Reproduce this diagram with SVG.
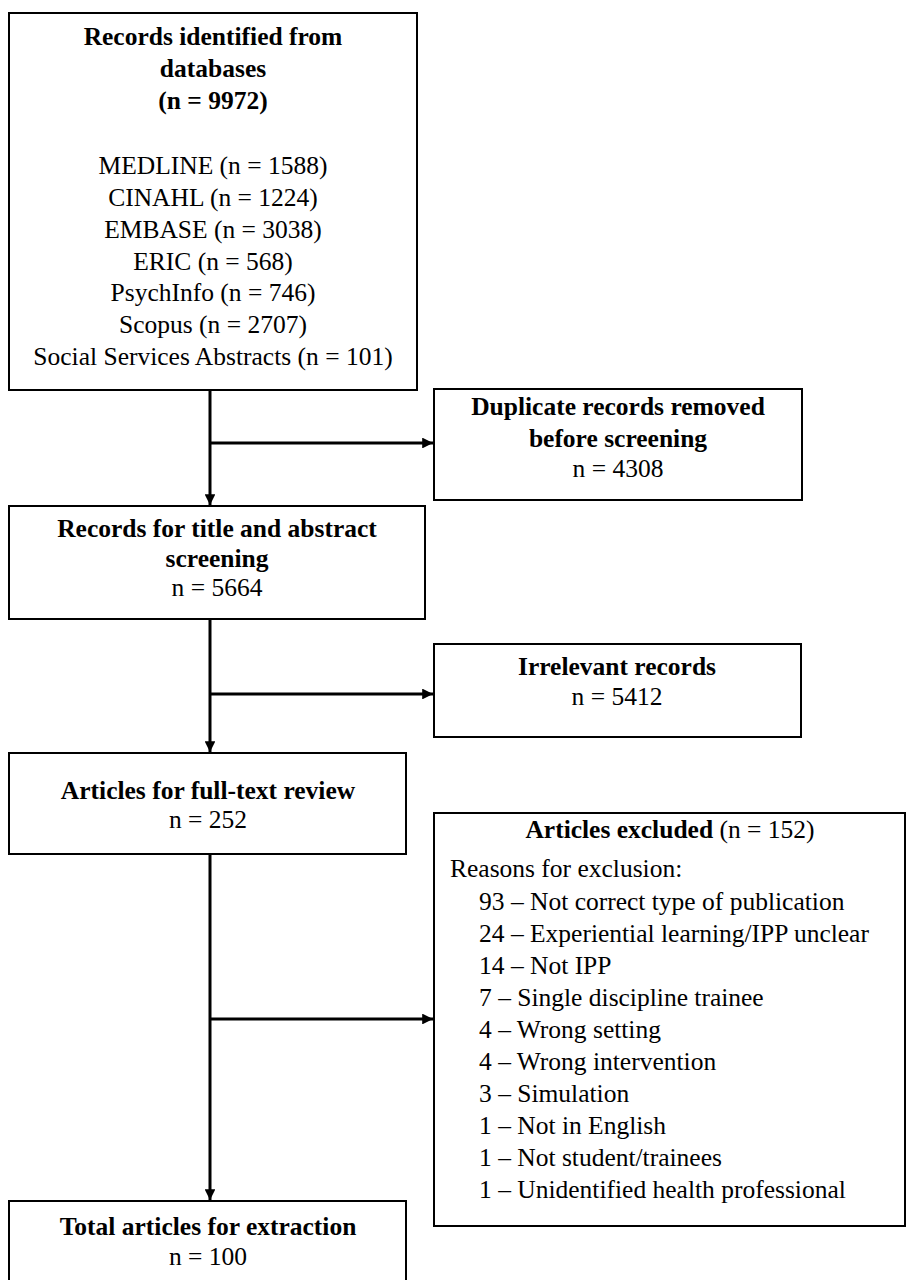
<svg xmlns="http://www.w3.org/2000/svg" width="907" height="1280" viewBox="0 0 907 1280">
<defs>
<style>
.box{fill:#fff;stroke:#000;stroke-width:2}
.t{font-family:"Liberation Serif","Times New Roman",serif;font-size:25.5px;fill:#000}
.b{font-weight:bold}
.c{text-anchor:middle}
.ln{stroke:#000;stroke-width:3;fill:none}
</style>
<marker id="ah" viewBox="0 0 10 10" refX="10" refY="5" markerWidth="3.6" markerHeight="3.6" orient="auto" markerUnits="strokeWidth">
<path d="M0,0 L10,5 L0,10 Z" fill="#000"/>
</marker>
</defs>
<rect width="907" height="1280" fill="#fff"/>
<g id="connectors">
<line class="ln" x1="210" y1="390" x2="210" y2="505" marker-end="url(#ah)"/>
<line class="ln" x1="210" y1="443" x2="433" y2="443" marker-end="url(#ah)"/>
<line class="ln" x1="210" y1="619" x2="210" y2="752" marker-end="url(#ah)"/>
<line class="ln" x1="210" y1="694" x2="433" y2="694" marker-end="url(#ah)"/>
<line class="ln" x1="210" y1="854" x2="210" y2="1200" marker-end="url(#ah)"/>
<line class="ln" x1="210" y1="1019" x2="433" y2="1019" marker-end="url(#ah)"/>
</g>
<g id="n1">
<rect class="box" x="9" y="13" width="408" height="377"/>
<text class="t b c" x="213" y="45">Records identified from</text>
<text class="t b c" x="213" y="77">databases</text>
<text class="t b c" x="213" y="109">(n = 9972)</text>
<text class="t c" x="213" y="174">MEDLINE (n = 1588)</text>
<text class="t c" x="213" y="206">CINAHL (n = 1224)</text>
<text class="t c" x="213" y="238">EMBASE (n = 3038)</text>
<text class="t c" x="213" y="270">ERIC (n = 568)</text>
<text class="t c" x="213" y="301">PsychInfo (n = 746)</text>
<text class="t c" x="213" y="333">Scopus (n = 2707)</text>
<text class="t c" x="213" y="365">Social Services Abstracts (n = 101)</text>
</g>
<g id="n2">
<rect class="box" x="434" y="389" width="368" height="111"/>
<text class="t b c" x="618" y="415">Duplicate records removed</text>
<text class="t b c" x="618" y="447">before screening</text>
<text class="t c" x="618" y="477">n = 4308</text>
</g>
<g id="n3">
<rect class="box" x="9" y="506" width="416" height="113"/>
<text class="t b c" x="217" y="537">Records for title and abstract</text>
<text class="t b c" x="217" y="567">screening</text>
<text class="t c" x="217" y="596">n = 5664</text>
</g>
<g id="n4">
<rect class="box" x="434" y="644" width="367" height="93"/>
<text class="t b c" x="617" y="675">Irrelevant records</text>
<text class="t c" x="617" y="705">n = 5412</text>
</g>
<g id="n5">
<rect class="box" x="9" y="753" width="397" height="101"/>
<text class="t b c" x="208" y="799">Articles for full-text review</text>
<text class="t c" x="208" y="828">n = 252</text>
</g>
<g id="n6">
<rect class="box" x="434" y="813" width="471" height="413"/>
<text class="t c" x="670" y="838"><tspan class="b">Articles excluded</tspan> (n = 152)</text>
<text class="t" x="450" y="877">Reasons for exclusion:</text>
<text class="t" x="479" y="910">93 – Not correct type of publication</text>
<text class="t" x="479" y="942">24 – Experiential learning/IPP unclear</text>
<text class="t" x="479" y="974">14 – Not IPP</text>
<text class="t" x="479" y="1006">7 – Single discipline trainee</text>
<text class="t" x="479" y="1038">4 – Wrong setting</text>
<text class="t" x="479" y="1070">4 – Wrong intervention</text>
<text class="t" x="479" y="1102">3 – Simulation</text>
<text class="t" x="479" y="1134">1 – Not in English</text>
<text class="t" x="479" y="1166">1 – Not student/trainees</text>
<text class="t" x="479" y="1198">1 – Unidentified health professional</text>
</g>
<g id="n7">
<rect class="box" x="9" y="1201" width="397" height="100"/>
<text class="t b c" x="208" y="1235">Total articles for extraction</text>
<text class="t c" x="208" y="1265">n = 100</text>
</g>
</svg>
